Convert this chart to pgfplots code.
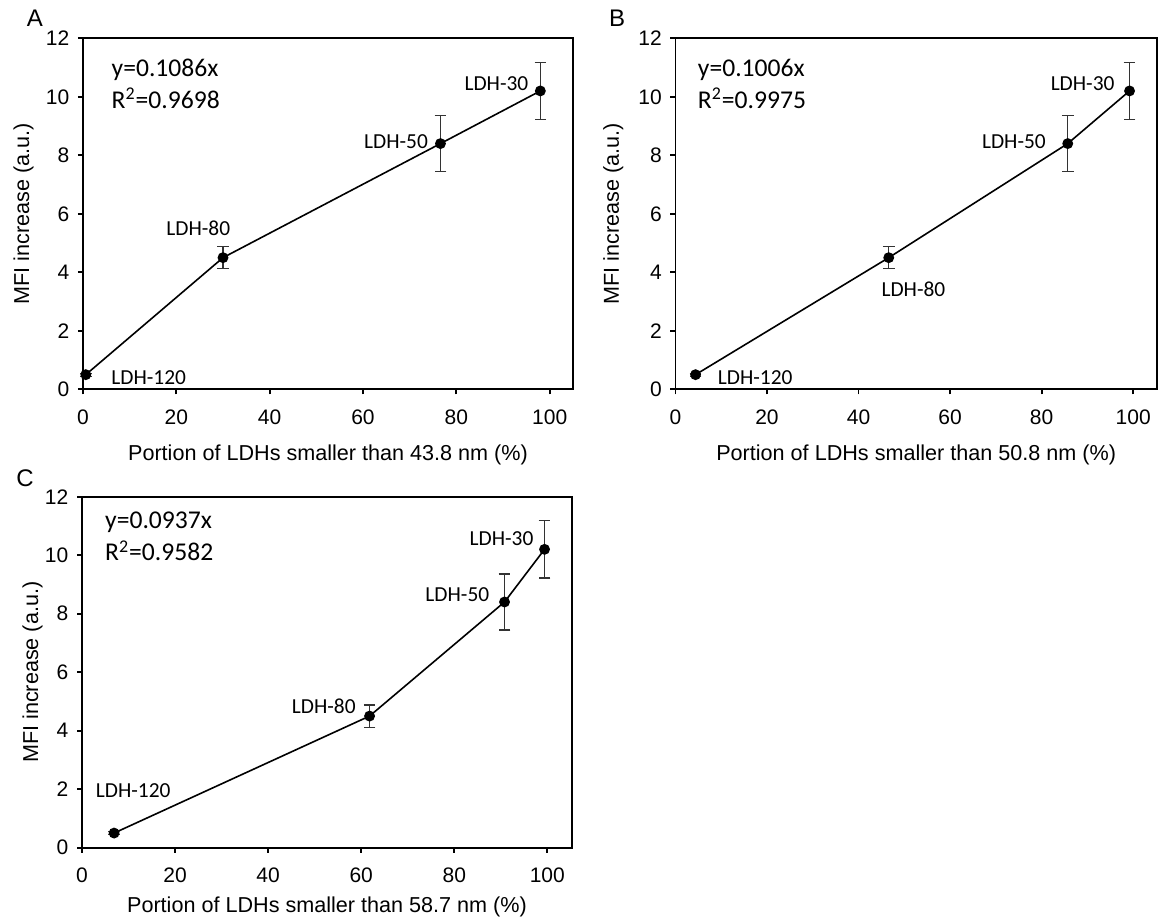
\documentclass[border=0pt]{standalone}
\usepackage{fontspec}
\setmainfont{Liberation Sans}
\newfontfamily\calibri{Carlito}
\usepackage{pgfplots}
\pgfplotsset{compat=1.18}
\pgfplotsset{
  panel/.style={
    scale only axis,
    height=175.5pt,
    xmin=0, ymin=0, ymax=12,
    xtick={0,20,...,100}, ytick={0,2,...,12},
    tick align=outside, xtick pos=bottom, ytick pos=left,
    major tick length=2.5pt,
    axis line style={line width=0.9pt},
    every tick/.style={black, line width=0.9pt},
    /pgf/number format/assume math mode=true,
    ticklabel style={font=\fontsize{10.5}{12}\selectfont},
    xticklabel style={yshift=-4pt},
    yticklabel style={xshift=-0.8pt},
    clip=false,
  },
  dat/.style={black, line width=0.8pt, mark=*, mark size=2.3pt,
    error bars/.cd, y dir=both, y explicit,
    error bar style={line width=0.6pt, black!80},
    error mark options={rotate=90, mark size=2.9pt, line width=0.6pt, black!80}},
}
\tikzset{
  lab/.style={font=\calibri\fontsize{10.7}{12}\selectfont, inner sep=0pt},
  eq/.style={font=\calibri\fontsize{12.8}{14}\selectfont, inner sep=0pt, anchor=west},
}
\begin{document}
\begin{tikzpicture}
\path[use as bounding box] (0,0) rectangle (584pt,462pt);
% Panel A
\begin{axis}[panel, at={(41.5pt,267.35pt)}, anchor=south west, width=245pt, xmax=105.0,
  xlabel={Portion of LDHs smaller than 43.8 nm (\%)},
  ylabel={MFI increase (a.u.)},
  xlabel style={at={(rel axis cs:0.5,0)}, anchor=center, yshift=-33pt, font=\fontsize{10.8}{12}\selectfont},
  ylabel style={at={(rel axis cs:0,0.5)}, anchor=center, yshift=29.75pt, font=\fontsize{10.8}{12}\selectfont}]
\addplot[dat] coordinates {(0.6,0.5) +- (0,0.05) (30.0,4.5) +- (0,0.38) (76.6,8.4) +- (0,0.96) (98.0,10.2) +- (0,0.98)};
\node[lab, anchor=west] at (axis cs:6.0,0.4) {LDH-120};
\node[lab, anchor=center] at (axis cs:24.7,5.5) {LDH-80};
\node[lab, anchor=east] at (axis cs:74.0,8.45) {LDH-50};
\node[lab, anchor=east] at (axis cs:95.5,10.45) {LDH-30};
\node[eq] at (axis cs:6.06,10.92) {y=0.1086x};
\node[eq] at (axis cs:6.06,9.95) {R\textsuperscript{2}=0.9698};
\end{axis}
% Panel B
\begin{axis}[panel, at={(337.7pt,267.35pt)}, anchor=south west, width=240.8pt, xmax=105.2,
  xlabel={Portion of LDHs smaller than 50.8 nm (\%)},
  ylabel={MFI increase (a.u.)},
  xlabel style={at={(rel axis cs:0.5,0)}, anchor=center, yshift=-33pt, font=\fontsize{10.8}{12}\selectfont},
  ylabel style={at={(rel axis cs:0,0.5)}, anchor=center, yshift=31pt, font=\fontsize{10.8}{12}\selectfont}]
\addplot[dat] coordinates {(4.4,0.5) +- (0,0.05) (46.6,4.5) +- (0,0.38) (85.7,8.4) +- (0,0.96) (99.2,10.2) +- (0,0.98)};
\node[lab, anchor=west] at (axis cs:9.2,0.4) {LDH-120};
\node[lab, anchor=center] at (axis cs:52.0,3.42) {LDH-80};
\node[lab, anchor=east] at (axis cs:81.0,8.45) {LDH-50};
\node[lab, anchor=east] at (axis cs:96.0,10.45) {LDH-30};
\node[eq] at (axis cs:4.84,10.92) {y=0.1006x};
\node[eq] at (axis cs:4.84,9.95) {R\textsuperscript{2}=0.9975};
\end{axis}
% Panel C
\begin{axis}[panel, at={(41pt,38.15pt)}, anchor=south west, width=245pt, xmax=105.3,
  xlabel={Portion of LDHs smaller than 58.7 nm (\%)},
  ylabel={MFI increase (a.u.)},
  xlabel style={at={(rel axis cs:0.5,0)}, anchor=center, yshift=-29.5pt, font=\fontsize{10.8}{12}\selectfont},
  ylabel style={at={(rel axis cs:0,0.5)}, anchor=center, yshift=24.7pt, font=\fontsize{10.8}{12}\selectfont}]
\addplot[dat] coordinates {(6.9,0.5) +- (0,0.05) (61.8,4.5) +- (0,0.38) (90.8,8.4) +- (0,0.96) (99.4,10.2) +- (0,0.98)};
\node[lab, anchor=center] at (axis cs:11.0,1.94) {LDH-120};
\node[lab, anchor=east] at (axis cs:58.9,4.84) {LDH-80};
\node[lab, anchor=east] at (axis cs:87.6,8.64) {LDH-50};
\node[lab, anchor=east] at (axis cs:97.1,10.58) {LDH-30};
\node[eq] at (axis cs:4.9,11.12) {y=0.0937x};
\node[eq] at (axis cs:4.9,10.15) {R\textsuperscript{2}=0.9582};
\end{axis}
% Panel letters
\node[font=\fontsize{12}{13}\selectfont, inner sep=0pt] at (17.5pt,453pt) {A};
\node[font=\fontsize{12}{13}\selectfont, inner sep=0pt] at (308.5pt,452.75pt) {B};
\node[font=\fontsize{12}{13}\selectfont, inner sep=0pt] at (12.5pt,223pt) {C};
\end{tikzpicture}
\end{document}
